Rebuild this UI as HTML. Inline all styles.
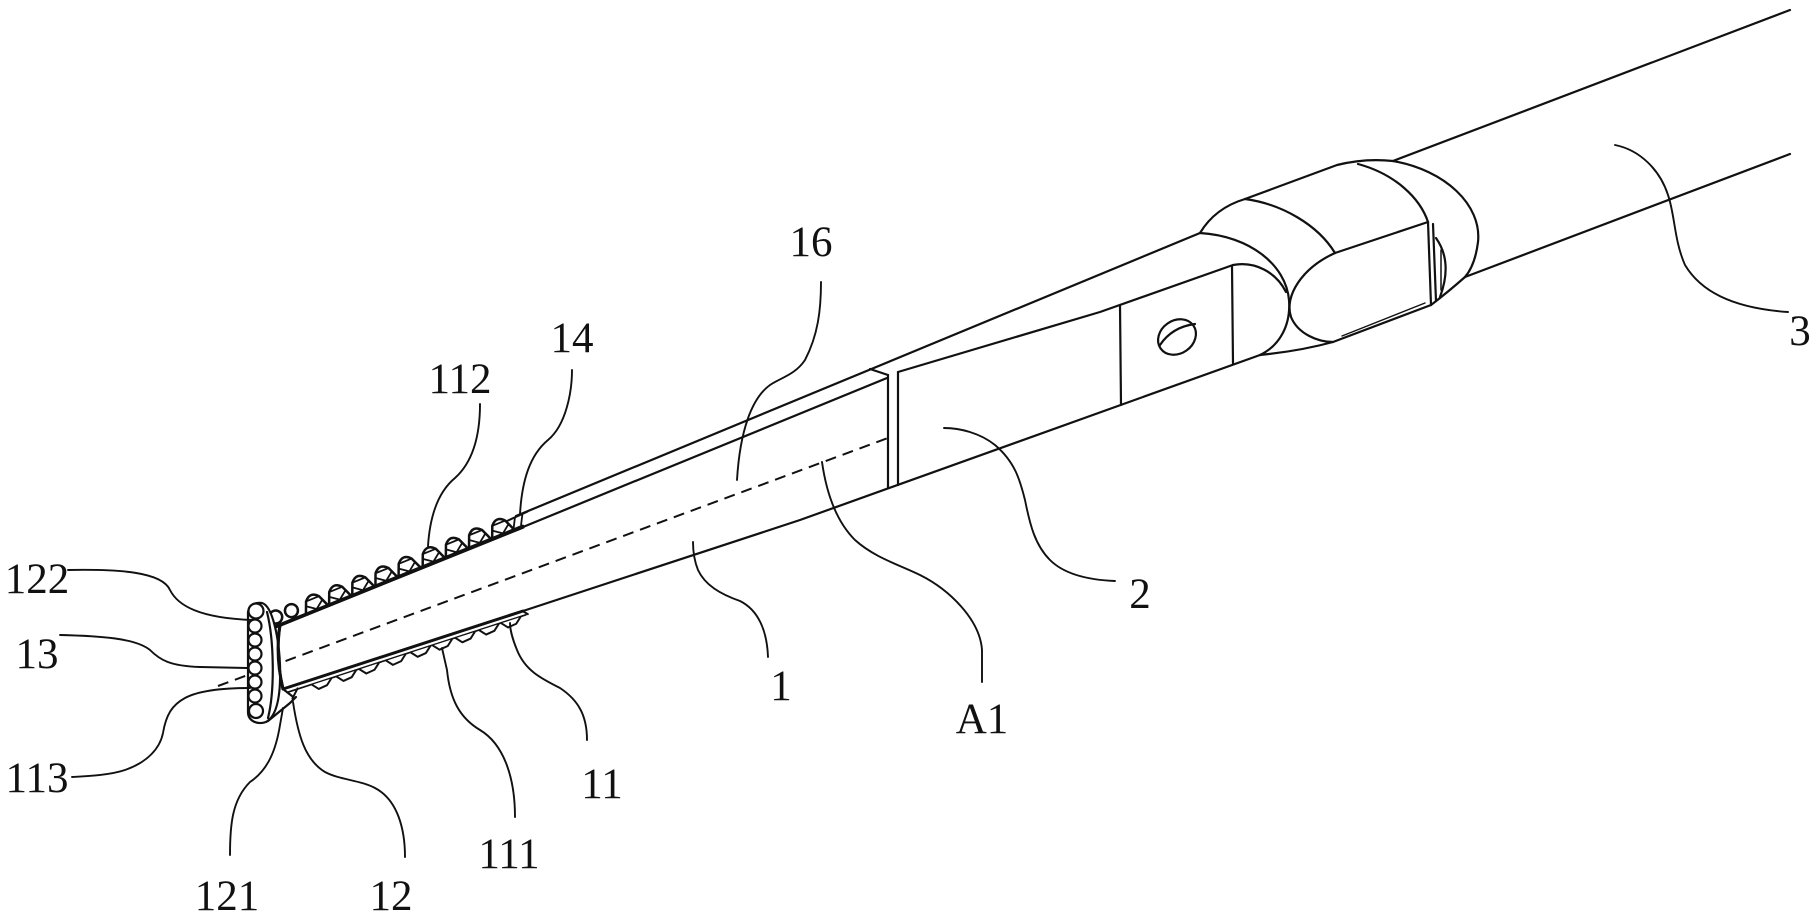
<!DOCTYPE html>
<html>
<head>
<meta charset="utf-8">
<style>
html,body{margin:0;padding:0;background:#fff;}
svg{display:block;}
</style>
</head>
<body>
<svg width="1819" height="920" viewBox="0 0 1819 920" xmlns="http://www.w3.org/2000/svg">
<rect x="0" y="0" width="1819" height="920" fill="#fff"/>

<!-- dashed centre axis -->
<path d="M218,686 L888,438" fill="none" stroke="#111" stroke-width="2" stroke-dasharray="11 7"/>

<g fill="none" stroke="#111" stroke-width="2.2" stroke-linecap="round" stroke-linejoin="round">
  <!-- main body lines -->
  <path d="M516,516 L1200,233"/>
  <path d="M280,625 L523,527" stroke-width="3.4"/>
  <path d="M523,527 L887,378"/>
  <path d="M870,369 L888,375"/>
  <path d="M888,375 L888,488"/>
  <path d="M898,372 L898,485"/>
  <path d="M898,372 L1100,312 L1233,265"/>
  <path d="M523,611 L800,520 L1260,355"/>

  <!-- face edges at tip -->
  <path d="M280,625 Q275,656 283,689" stroke-width="3"/>
  <path d="M283,689 L523,611" stroke-width="3"/>

  <!-- hinge / part 2 -->
  <path d="M1120,305 L1121,405"/>
  <path d="M1232,266 L1233,364"/>
  <ellipse cx="1177" cy="337" rx="20" ry="16.5" transform="rotate(-35 1177 337)"/>
  <path d="M1160,345 Q1172,327 1195,324"/>
  <path d="M1200,233 C1250,236 1286,265 1289,300 C1291,326 1279,346 1260,355"/>
  <path d="M1233,265 C1255,261 1276,272 1286,292"/>
  <path d="M1260,355 Q1300,351 1333,342"/>

  <!-- collar -->
  <path d="M1200,233 Q1215,208 1245,199"/>
  <path d="M1245,199 L1337,165 Q1365,158 1393,161"/>
  <path d="M1393,161 L1790,10"/>
  <path d="M1245,199 C1282,204 1318,225 1335,253"/>
  <path d="M1358,164 C1395,174 1420,198 1428,222"/>
  <path d="M1393,161 C1445,170 1482,205 1478,242 C1476,258 1471,270 1465,277"/>
  <path d="M1465,277 L1790,154"/>
  <path d="M1335,253 L1428,222"/>
  <path d="M1428,222 L1431,305"/>
  <path d="M1433,224 L1436,301"/>
  <path d="M1436,238 Q1453,262 1440,297"/>
  <path d="M1441,250 L1441,290" stroke-width="1.5"/>
  <path d="M1431,305 L1333,342"/>
  <path d="M1425,303 L1342,336" stroke-width="1.4"/>
  <path d="M1431,305 Q1448,292 1465,277"/>
  <path d="M1335,253 C1302,268 1284,296 1291,317 C1298,334 1318,342 1333,342"/>
</g>

<!-- upper teeth strip -->
<g transform="translate(280,625) rotate(-22.1)" fill="none" stroke="#111" stroke-width="2.5" stroke-linejoin="round" stroke-linecap="round">
  <circle cx="-1" cy="-9" r="6.5" fill="#fff"/>
  <circle cx="16" cy="-9" r="6.5" fill="#fff"/>
  <g transform="translate(40,0)"><path d="M-12,0 L-7,-12 Q0,-20 7,-12 L12,0" fill="#fff"/><path d="M-6,-12 L6,-12" stroke-width="1.8"/><path d="M-8,-7 L0,-1 L8,-7" stroke-width="1.8"/></g>
  <g transform="translate(65,0)"><path d="M-12,0 L-7,-12 Q0,-20 7,-12 L12,0" fill="#fff"/><path d="M-6,-12 L6,-12" stroke-width="1.8"/><path d="M-8,-7 L0,-1 L8,-7" stroke-width="1.8"/></g>
  <g transform="translate(90,0)"><path d="M-12,0 L-7,-12 Q0,-20 7,-12 L12,0" fill="#fff"/><path d="M-6,-12 L6,-12" stroke-width="1.8"/><path d="M-8,-7 L0,-1 L8,-7" stroke-width="1.8"/></g>
  <g transform="translate(115,0)"><path d="M-12,0 L-7,-12 Q0,-20 7,-12 L12,0" fill="#fff"/><path d="M-6,-12 L6,-12" stroke-width="1.8"/><path d="M-8,-7 L0,-1 L8,-7" stroke-width="1.8"/></g>
  <g transform="translate(140,0)"><path d="M-12,0 L-7,-12 Q0,-20 7,-12 L12,0" fill="#fff"/><path d="M-6,-12 L6,-12" stroke-width="1.8"/><path d="M-8,-7 L0,-1 L8,-7" stroke-width="1.8"/></g>
  <g transform="translate(166,0)"><path d="M-12,0 L-7,-12 Q0,-20 7,-12 L12,0" fill="#fff"/><path d="M-6,-12 L6,-12" stroke-width="1.8"/><path d="M-8,-7 L0,-1 L8,-7" stroke-width="1.8"/></g>
  <g transform="translate(191,0)"><path d="M-12,0 L-7,-12 Q0,-20 7,-12 L12,0" fill="#fff"/><path d="M-6,-12 L6,-12" stroke-width="1.8"/><path d="M-8,-7 L0,-1 L8,-7" stroke-width="1.8"/></g>
  <g transform="translate(216,0)"><path d="M-12,0 L-7,-12 Q0,-20 7,-12 L12,0" fill="#fff"/><path d="M-6,-12 L6,-12" stroke-width="1.8"/><path d="M-8,-7 L0,-1 L8,-7" stroke-width="1.8"/></g>
  <g transform="translate(241,0)"><path d="M-12,0 L-7,-12 Q0,-20 7,-12 L12,0" fill="#fff"/><path d="M-6,-12 L6,-12" stroke-width="1.8"/><path d="M-8,-7 L0,-1 L8,-7" stroke-width="1.8"/></g>
  <path d="M250,-11 L272,-12" stroke-width="2"/>
  <path d="M253,-2 L258,-11" stroke-width="1.8"/>
  <path d="M261,-2 L266,-11" stroke-width="1.8"/>
  <path d="M-4,0 L262,0" stroke-width="3.6"/>
</g>

<!-- lower teeth strip -->
<g transform="translate(283,689) rotate(-18)" fill="none" stroke="#111" stroke-width="2" stroke-linejoin="round" stroke-linecap="round">
  <path d="M4,4.5 L254,4.5" stroke-width="1.7"/>
  <path d="M252,0 L256,4.5"/>
  <path d="M14,4 L6,12" />
  <g transform="translate(39,0)"><path d="M-10,5 L-5,11 L4,10 L10,5" fill="#fff"/></g>
  <g transform="translate(65,0)"><path d="M-10,5 L-5,11 L4,10 L10,5" fill="#fff"/></g>
  <g transform="translate(89,0)"><path d="M-10,5 L-5,11 L4,10 L10,5" fill="#fff"/></g>
  <g transform="translate(117,0)"><path d="M-10,5 L-5,11 L4,10 L10,5" fill="#fff"/></g>
  <g transform="translate(143,0)"><path d="M-10,5 L-5,11 L4,10 L10,5" fill="#fff"/></g>
  <g transform="translate(166,0)"><path d="M-10,5 L-5,11 L4,10 L10,5" fill="#fff"/></g>
  <g transform="translate(190,0)"><path d="M-10,5 L-5,11 L4,10 L10,5" fill="#fff"/></g>
  <g transform="translate(215,0)"><path d="M-10,5 L-5,11 L4,10 L10,5" fill="#fff"/></g>
  <g transform="translate(238,0)"><path d="M-10,5 L-5,11 L4,10 L10,5" fill="#fff"/></g>
</g>

<!-- end cap with bumps -->
<g fill="none" stroke="#111" stroke-width="2.2" stroke-linejoin="round" stroke-linecap="round">
  <path d="M262,603 C273,606 279,640 280,665 C281,695 277,716 266,722 C257,725 248,721 248,712 L248,612 C249,605 255,602 262,603 Z" fill="#fff"/>
  <circle cx="256" cy="611" r="7.5" fill="#fff"/>
  <circle cx="255" cy="626" r="6.5" fill="#fff"/>
  <circle cx="255" cy="640" r="6.5" fill="#fff"/>
  <circle cx="255" cy="654" r="6.5" fill="#fff"/>
  <circle cx="255" cy="668" r="6.5" fill="#fff"/>
  <circle cx="255" cy="682" r="6.5" fill="#fff"/>
  <circle cx="255" cy="696" r="6.5" fill="#fff"/>
  <circle cx="256" cy="711" r="7" fill="#fff"/>
  <path d="M267,612 C274,640 275,690 268,718"/>
  <path d="M280,625 Q275,656 283,689" stroke-width="3"/>
  <path d="M283,689 L292,696"/>
  <path d="M268,721 L290,703 L296,697"/>
</g>

<!-- leader lines -->
<g fill="none" stroke="#111" stroke-width="1.9" stroke-linecap="round">
  <path d="M821,282 C821,310 818,335 805,360 C795,375 780,378 770,385 C752,398 740,430 737,480"/>
  <path d="M572,370 C572,392 566,425 548,440 C530,455 522,480 520,514"/>
  <path d="M480,404 C480,430 475,460 455,478 C438,492 430,515 428,546"/>
  <path d="M68,570 C120,569 162,572 170,590 C178,606 200,618 252,620"/>
  <path d="M60,635 C100,636 135,638 150,650 C160,660 170,666 200,667 L247,668"/>
  <path d="M72,777 C90,776 110,775 125,770 C148,762 160,748 163,733 C166,715 172,705 185,698 C200,690 225,688 250,688"/>
  <path d="M230,855 C230,825 232,800 250,782 C268,770 276,750 280,725 L283,708"/>
  <path d="M405,857 C405,830 398,800 375,788 C360,780 340,780 325,772 C305,760 298,735 293,702"/>
  <path d="M515,817 C515,780 505,745 480,730 C460,718 450,700 447,670 L442,648"/>
  <path d="M587,740 C587,715 578,700 560,688 C540,678 525,670 517,650 C512,638 510,628 510,623"/>
  <path d="M768,657 C767,630 758,610 740,601 C720,594 705,585 698,570 C694,560 693,550 693,542"/>
  <path d="M822,462 C826,490 835,520 855,540 C875,558 900,565 920,575 C950,590 980,620 982,650 L982,682"/>
  <path d="M944,428 C960,428 980,433 995,445 C1015,462 1020,480 1025,500 C1030,525 1035,545 1050,560 C1065,575 1090,580 1115,581"/>
  <path d="M1615,145 C1640,150 1660,170 1668,195 C1675,215 1674,240 1685,265 C1700,290 1730,308 1788,312"/>
</g>

<!-- labels -->
<g font-family="'Liberation Serif', 'DejaVu Serif', serif" font-size="43" text-anchor="middle" fill="#111">
  <text x="37" y="593">122</text>
  <text x="37" y="668">13</text>
  <text x="37" y="792">113</text>
  <text x="227" y="910">121</text>
  <text x="391" y="910">12</text>
  <text x="509" y="868">111</text>
  <text x="602" y="798">11</text>
  <text x="781" y="700">1</text>
  <text x="460" y="393">112</text>
  <text x="572" y="352">14</text>
  <text x="811" y="256">16</text>
  <text x="1140" y="608">2</text>
  <text x="982" y="733">A1</text>
  <text x="1800" y="345">3</text>
</g>
</svg>
</body>
</html>
